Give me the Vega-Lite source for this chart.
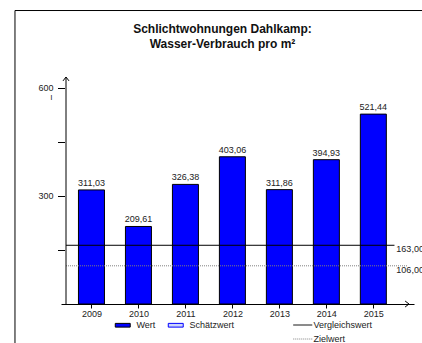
{
  "$schema": "https://vega.github.io/schema/vega-lite/v6.json",
  "width": 353,
  "height": 227,
  "autosize": {"type": "none"},
  "padding": {"left": 61, "top": 77, "right": 8, "bottom": 39},
  "background": "white",
  "title": {
    "text": ["Schlichtwohnungen Dahlkamp:", "Wasser-Verbrauch pro m²"],
    "frame": "group",
    "anchor": "middle",
    "dx": -15,
    "offset": -40.5,
    "fontSize": 12,
    "font": "Liberation Sans",
    "fontWeight": "bold",
    "color": "#111",
    "lineHeight": 15
  },
  "config": {
    "view": {"stroke": null},
    "font": "Liberation Sans",
    "locale": {"number": {"decimal": ",", "thousands": ".", "grouping": [3], "currency": ["", " €"]}},
    "axis": {"grid": false}
  },
  "datasets": {
    "bars": [
      {"year": 2009, "value": 311.03, "type": "Wert"},
      {"year": 2010, "value": 209.61, "type": "Wert"},
      {"year": 2011, "value": 326.38, "type": "Wert"},
      {"year": 2012, "value": 403.06, "type": "Wert"},
      {"year": 2013, "value": 311.86, "type": "Wert"},
      {"year": 2014, "value": 394.93, "type": "Wert"},
      {"year": 2015, "value": 521.44, "type": "Wert"}
    ],
    "refs": [
      {"name": "Vergleichswert", "value": 163},
      {"name": "Zielwert", "value": 106}
    ]
  },
  "layer": [
    {
      "data": {"name": "bars"},
      "mark": {"type": "bar", "orient": "vertical", "size": 26, "stroke": "black", "strokeWidth": 1, "yOffset": -2, "y2Offset": -2},
      "encoding": {
        "x": {
          "field": "year", "type": "quantitative",
          "scale": {"domain": [2008.458, 2015.759], "nice": false, "zero": false},
          "axis": {"values": [2009, 2010, 2011, 2012, 2013, 2014, 2015], "format": "d", "title": null, "tickSize": 4, "tickColor": "black", "domainColor": "black", "labelFontSize": 9, "labelColor": "#222", "labelPadding": 1, "labelFlush": false, "grid": false}
        },
        "y": {
          "field": "value", "type": "quantitative", "stack": null,
          "scale": {"domain": [0, 630], "nice": false, "zero": true},
          "axis": {"values": [150, 300, 450, 600], "labelExpr": "datum.value % 300 == 0 ? datum.label : ''", "domain": false, "offset": -3.5, "tickSize": 7, "tickColor": "black", "labelPadding": 4.5, "labelFontSize": 9, "labelColor": "#222", "title": "l", "titleAngle": 0, "titleX": -13.5, "titleY": 20, "titleFontSize": 8, "titleFontWeight": "normal", "titleAlign": "center", "titleBaseline": "middle", "titleColor": "#222", "grid": false}
        },
        "fill": {
          "field": "type", "type": "nominal",
          "scale": {"domain": ["Wert", "Schätzwert"], "range": ["#0000ff", "#cdd5fa"]},
          "legend": {
            "orient": "none", "legendX": 57.25, "legendY": 243.5, "direction": "horizontal", "title": null,
            "symbolType": "M-2,-0.5H2V0.5H-2Z", "symbolSize": 56, "symbolStrokeColor": "black", "symbolStrokeWidth": 1,
            "labelFontSize": 9, "labelFont": "Liberation Sans", "labelColor": "#222", "labelOffset": 9.25, "columnPadding": 10, "padding": 0,
            "encode": {"symbols": {"update": {"stroke": {"signal": "datum.value === 'Wert' ? 'black' : '#0000ff'"}}}}
          }
        }
      }
    },
    {
      "data": {"name": "bars"},
      "mark": {"type": "text", "baseline": "bottom", "align": "center", "yOffset": -2, "dy": -2, "fontSize": 9, "color": "#222"},
      "encoding": {
        "x": {"field": "year", "type": "quantitative"},
        "y": {"field": "value", "type": "quantitative", "title": "l"},
        "text": {"field": "value", "type": "quantitative", "format": ".2f"}
      }
    },
    {
      "data": {"name": "refs"},
      "transform": [{"filter": "datum.name == 'Vergleichswert'"}],
      "mark": {"type": "rule", "strokeWidth": 1},
      "encoding": {
        "x": {"datum": 2008.458, "type": "quantitative"},
        "x2": {"datum": 2015.45},
        "y": {"field": "value", "type": "quantitative", "title": "l"},
        "stroke": {
          "field": "name", "type": "nominal",
          "scale": {"domain": ["Vergleichswert", "Zielwert"], "range": ["#000000", "#808080"]},
          "legend": {"orient": "none", "legendX": 236.25, "legendY": 242.5, "direction": "vertical", "title": null, "symbolType": "M-2,0H2", "symbolSize": 90, "symbolFillColor": "transparent", "symbolStrokeWidth": 1, "labelFontSize": 9, "labelFont": "Liberation Sans", "labelColor": "#222", "labelOffset": 5.25, "rowPadding": 3, "padding": 0}
        },
        "strokeDash": {
          "field": "name", "type": "nominal",
          "scale": {"domain": ["Vergleichswert", "Zielwert"], "range": [[1, 0], [1, 1]]},
          "legend": {"orient": "none", "legendX": 236.25, "legendY": 242.5, "direction": "vertical", "title": null, "symbolType": "M-2,0H2", "symbolSize": 90, "symbolFillColor": "transparent", "symbolStrokeWidth": 1, "labelFontSize": 9, "labelFont": "Liberation Sans", "labelColor": "#222", "labelOffset": 5.25, "rowPadding": 3, "padding": 0}
        }
      }
    },
    {
      "data": {"name": "refs"},
      "transform": [{"filter": "datum.name == 'Zielwert'"}],
      "mark": {"type": "rule", "strokeWidth": 1},
      "encoding": {
        "x": {"datum": 2008.458, "type": "quantitative"},
        "x2": {"datum": 2015.718},
        "y": {"field": "value", "type": "quantitative", "title": "l"},
        "stroke": {"field": "name", "type": "nominal"},
        "strokeDash": {"field": "name", "type": "nominal"}
      }
    },
    {
      "data": {"name": "refs"},
      "mark": {"type": "text", "align": "left", "baseline": "top", "fontSize": 9, "color": "#222"},
      "encoding": {
        "x": {"datum": 2015.49, "type": "quantitative"},
        "y": {"field": "value", "type": "quantitative", "title": "l"},
        "text": {"field": "value", "type": "quantitative", "format": ".2f"}
      }
    },
    {
      "data": {"values": [{}]},
      "mark": {"type": "rule", "stroke": "black", "strokeWidth": 1},
      "encoding": {
        "x": {"datum": 2008.458, "type": "quantitative"},
        "y": {"datum": 0, "type": "quantitative"},
        "y2": {"datum": 630}
      }
    },
    {
      "data": {"values": [{}]},
      "mark": {"type": "point", "shape": "M-1,1.3L0,0L1,1.3", "size": 36, "filled": false, "stroke": "black", "strokeWidth": 1, "opacity": 1},
      "encoding": {
        "x": {"datum": 2008.458, "type": "quantitative"},
        "y": {"datum": 630, "type": "quantitative"}
      }
    },
    {
      "data": {"values": [{}]},
      "mark": {"type": "point", "shape": "M-1.3,-1L0,0L-1.3,1", "size": 36, "filled": false, "stroke": "black", "strokeWidth": 1, "opacity": 1},
      "encoding": {
        "x": {"datum": 2015.759, "type": "quantitative"},
        "y": {"datum": 0, "type": "quantitative"}
      }
    },
    {
      "data": {"values": [{}]},
      "mark": {"type": "rect", "filled": false, "stroke": "black", "strokeWidth": 1},
      "encoding": {
        "x": {"datum": 2007.372, "type": "quantitative"},
        "x2": {"datum": 2017.5},
        "y": {"datum": 814.5, "type": "quantitative"},
        "y2": {"datum": -300}
      }
    }
  ]
}
